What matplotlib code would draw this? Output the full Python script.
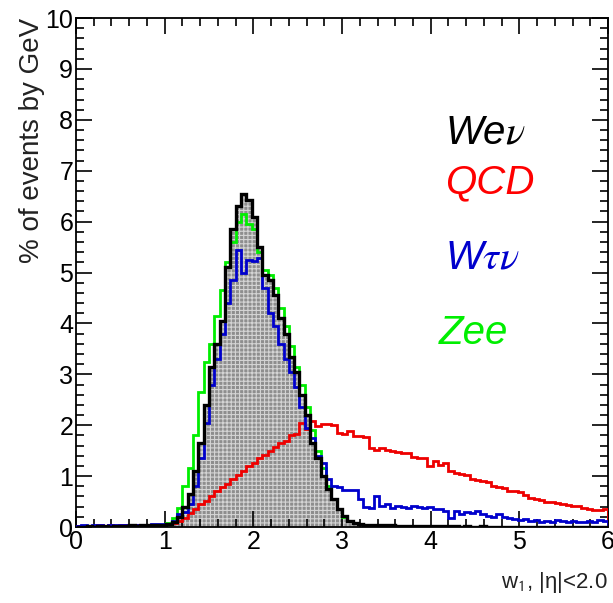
import numpy as np
import matplotlib
matplotlib.use("Agg")
import matplotlib.pyplot as plt
from matplotlib.ticker import MultipleLocator

plt.rcParams['font.family'] = ['Liberation Sans', 'DejaVu Sans']
plt.rcParams['mathtext.fontset'] = 'stix'
plt.rcParams['hatch.linewidth'] = 0.8

# ---- data (percent of events per bin, bin width 0.06, range 0..6) ----
bin_edges = np.linspace(0.0, 6.0, 101)

wenu = [0.01, 0.01, 0.02, 0.01, 0.02, 0.02, 0.01, 0.02, 0.02, 0.02,
        0.03, 0.02, 0.03, 0.03, 0.03, 0.04, 0.04, 0.05, 0.10, 0.20,
        0.40, 0.65, 1.10, 1.65, 2.40, 3.15, 3.60, 4.05, 5.10, 5.85,
        6.30, 6.55, 6.42, 6.10, 5.50, 4.95, 4.85, 4.55, 4.10, 3.80,
        3.35, 3.05, 2.60, 2.20, 1.65, 1.35, 1.00, 0.75, 0.55, 0.35,
        0.22, 0.12, 0.07, 0.05, 0.04, 0.04, 0.03, 0.03, 0.03, 0.03,
        0.02, 0.02, 0.02, 0.02, 0.02, 0.02, 0.02, 0.02, 0.02, 0.02,
        0.02, 0.02, 0.01, 0.02, 0.01, 0.01, 0.02, 0.01, 0.01, 0.01,
        0.01, 0.01, 0.01, 0.01, 0.01, 0.01, 0.01, 0.01, 0.01, 0.01,
        0.01, 0.01, 0.01, 0.01, 0.01, 0.01, 0.01, 0.01, 0.01, 0.01]

zee = [0.01, 0.01, 0.01, 0.01, 0.01, 0.02, 0.01, 0.01, 0.02, 0.02,
       0.02, 0.02, 0.02, 0.03, 0.03, 0.03, 0.04, 0.08, 0.18, 0.38,
       0.80, 1.15, 1.80, 2.65, 3.25, 3.60, 4.15, 4.65, 5.20, 5.60,
       6.00, 6.15, 5.95, 5.85, 5.40, 5.05, 4.95, 4.70, 4.30, 3.95,
       3.55, 3.15, 2.80, 2.35, 1.90, 1.50, 1.15, 0.80, 0.55, 0.35,
       0.20, 0.12, 0.07, 0.05, 0.04, 0.03, 0.03, 0.03, 0.02, 0.02,
       0.02, 0.02, 0.02, 0.02, 0.02, 0.02, 0.01, 0.02, 0.01, 0.01,
       0.01, 0.01, 0.01, 0.01, 0.01, 0.01, 0.01, 0.01, 0.01, 0.01,
       0.01, 0.01, 0.01, 0.01, 0.01, 0.01, 0.01, 0.01, 0.01, 0.01,
       0.01, 0.01, 0.01, 0.01, 0.01, 0.01, 0.01, 0.01, 0.01, 0.01]

wtaunu = [0.02, 0.03, 0.02, 0.03, 0.03, 0.02, 0.03, 0.03, 0.04, 0.03,
          0.03, 0.04, 0.04, 0.04, 0.05, 0.05, 0.06, 0.06, 0.12, 0.25,
          0.30, 0.45, 0.80, 1.35, 2.05, 2.80, 3.30, 3.80, 4.40, 4.85,
          5.45, 5.00, 5.25, 5.22, 5.28, 4.70, 4.20, 3.95, 3.60, 3.30,
          3.05, 2.75, 2.35, 1.95, 1.75, 1.40, 1.25, 0.95, 0.80, 0.78,
          0.72, 0.73, 0.72, 0.55, 0.40, 0.38, 0.60, 0.42, 0.45, 0.38,
          0.42, 0.40, 0.38, 0.42, 0.40, 0.38, 0.40, 0.36, 0.35, 0.32,
          0.18, 0.32, 0.25, 0.30, 0.28, 0.32, 0.25, 0.22, 0.20, 0.25,
          0.20, 0.18, 0.15, 0.14, 0.15, 0.12, 0.13, 0.10, 0.12, 0.10,
          0.13, 0.12, 0.10, 0.12, 0.10, 0.10, 0.12, 0.10, 0.13, 0.12]

qcd = [0.02, 0.02, 0.02, 0.02, 0.03, 0.02, 0.03, 0.02, 0.03, 0.03,
       0.03, 0.03, 0.04, 0.03, 0.04, 0.04, 0.04, 0.05, 0.08, 0.12,
       0.18, 0.28, 0.35, 0.45, 0.52, 0.60, 0.70, 0.78, 0.85, 0.95,
       1.02, 1.10, 1.20, 1.25, 1.35, 1.42, 1.50, 1.58, 1.65, 1.70,
       1.80, 1.82, 2.05, 1.92, 2.08, 1.98, 2.02, 2.02, 2.00, 1.85,
       1.82, 1.88, 1.78, 1.78, 1.76, 1.55, 1.52, 1.56, 1.52, 1.50,
       1.47, 1.46, 1.45, 1.38, 1.36, 1.35, 1.20, 1.30, 1.22, 1.25,
       1.10, 1.07, 1.05, 1.03, 0.95, 0.92, 0.90, 0.88, 0.80, 0.78,
       0.76, 0.70, 0.70, 0.68, 0.62, 0.58, 0.56, 0.54, 0.50, 0.50,
       0.47, 0.45, 0.43, 0.42, 0.42, 0.38, 0.35, 0.33, 0.33, 0.36]

x_ticks = [0, 1, 2, 3, 4, 5, 6]
y_ticks = [0, 1, 2, 3, 4, 5, 6, 7, 8, 9, 10]

# ---- figure ----
fig = plt.figure(figsize=(6.13, 6.03), dpi=100)
ax = fig.add_axes([0.124, 0.126, 0.868, 0.844])

# hatched grey fill of W->enu
ax.stairs(wenu, bin_edges, fill=True, facecolor='#8e8e8e', edgecolor='#d4d4d4',
          hatch='++++', linewidth=0, zorder=1)

ax.stairs(zee, bin_edges, color='#00ee00', linewidth=2.0, zorder=2)
ax.stairs(qcd, bin_edges, color='#ee0000', linewidth=2.0, zorder=3)
ax.stairs(wtaunu, bin_edges, color='#0000cc', linewidth=2.0, zorder=4)
ax.stairs(wenu, bin_edges, color='black', linewidth=2.4, zorder=5)

ax.set_xlim(0, 6)
ax.set_ylim(0, 10)
ax.set_xticks(x_ticks)
ax.set_yticks(y_ticks)
ax.xaxis.set_minor_locator(MultipleLocator(0.2))
ax.yaxis.set_minor_locator(MultipleLocator(0.2))
ax.tick_params(which='both', direction='in', top=True, right=True,
               width=1.2, labelsize=18, pad=2)
ax.tick_params(which='major', length=11.5)
ax.tick_params(which='minor', length=5.8)
for sp in ax.spines.values():
    sp.set_linewidth(1.3)

ax.set_ylabel('% of events by GeV', fontsize=20, loc='top', labelpad=0,
              color='#222222')
ax.set_xlabel(r'w$_\mathsf{1}$, |η|<2.0', fontsize=16, loc='right',
              labelpad=12, color='#222222')

# legend-like labels
tk = dict(transform=ax.transAxes, fontsize=29, style='italic', va='center',
          ha='left')
ax.text(0.694, 0.775, r'We$\nu$', color='black', **tk)
ax.text(0.694, 0.678, 'QCD', color='#ff0000', **tk)
ax.text(0.694, 0.530, r'W$\tau\nu$', color='#0000cc', **tk)
ax.text(0.682, 0.381, 'Zee', color='#00ee00', **tk)

fig.savefig('out.png', dpi=100)
